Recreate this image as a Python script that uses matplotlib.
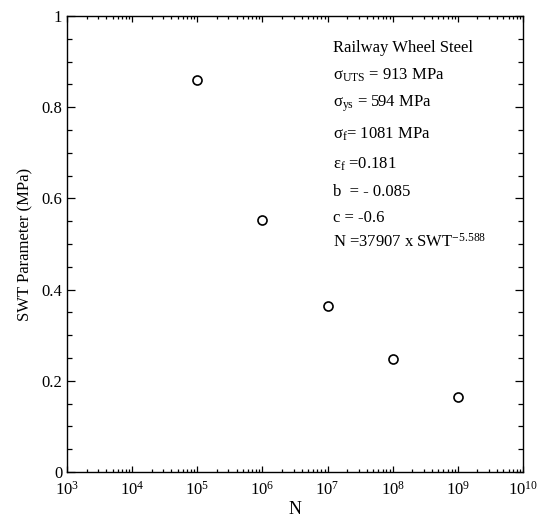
import matplotlib
matplotlib.use('Agg')
from matplotlib import pyplot as plt
from matplotlib.ticker import FixedLocator, LogLocator, MultipleLocator, FormatStrFormatter, NullFormatter

plt.rcParams['font.family'] = ['Liberation Serif', 'DejaVu Serif']
plt.rcParams['mathtext.fontset'] = 'custom'
plt.rcParams['mathtext.rm'] = 'Liberation Serif'
plt.rcParams['mathtext.it'] = 'Liberation Serif:italic'

# data
cycles = [1e5, 1e6, 1e7, 1e8, 1e9]
swt = [0.86, 0.553, 0.364, 0.247, 0.164]
x_ticks = [1e3, 1e4, 1e5, 1e6, 1e7, 1e8, 1e9, 1e10]
x_labels = ['$10^{%d}$' % e for e in range(3, 11)]

info_lines = [
    'Railway Wheel Steel',
    'σ$_{\\mathrm{UTS}}$ = 913 MPa',
    'σ$_{\\mathrm{ys}}$ = 594 MPa',
    'σ$_{\\mathrm{f}}$= 1081 MPa',
    'ε$_{\\mathrm{f}}$ =0.181',
    'b  = - 0.085',
    'c = -0.6',
    'N =37907 x SWT$^{\\mathrm{-5.588}}$',
]
info_y = [48, 75, 104, 134, 164, 192, 218, 242]

fig = plt.figure(figsize=(5.4, 5.24), dpi=100)
ax = fig.add_axes([67 / 540, 1 - 472 / 524, 456 / 540, 456 / 524])

ax.plot(cycles, swt, 'o', mfc='white', mec='black', ms=6.5, mew=1.2, zorder=3)

ax.set_xscale('log')
ax.set_xlim(1e3, 1e10)
ax.set_ylim(0, 1)
ax.xaxis.set_major_locator(FixedLocator(x_ticks))
ax.set_xticklabels(x_labels)
ax.xaxis.set_minor_locator(LogLocator(base=10, subs=range(2, 10), numticks=100))
ax.xaxis.set_minor_formatter(NullFormatter())
ax.yaxis.set_major_locator(MultipleLocator(0.2))
ax.yaxis.set_minor_locator(MultipleLocator(0.05))
ax.yaxis.set_major_formatter(FormatStrFormatter('%g'))

ax.tick_params(which='both', direction='in', top=True, right=True, labelsize=12, width=0.9)
ax.tick_params(axis='x', which='major', length=4.5, pad=6)
ax.tick_params(axis='x', which='minor', length=2.5)
ax.tick_params(axis='y', which='major', length=6)
ax.tick_params(axis='y', which='minor', length=3.5)
for s in ax.spines.values():
    s.set_linewidth(1.0)

ax.set_xlabel('N', fontsize=13, labelpad=2)
ax.set_ylabel('SWT Parameter (MPa)', fontsize=12, labelpad=6)

for txt, yp in zip(info_lines, info_y):
    ax.text((333 - 67) / 456, (472 - yp) / 456, txt, transform=ax.transAxes,
            fontsize=12, va='center', ha='left')

fig.savefig('out.png', dpi=100)
